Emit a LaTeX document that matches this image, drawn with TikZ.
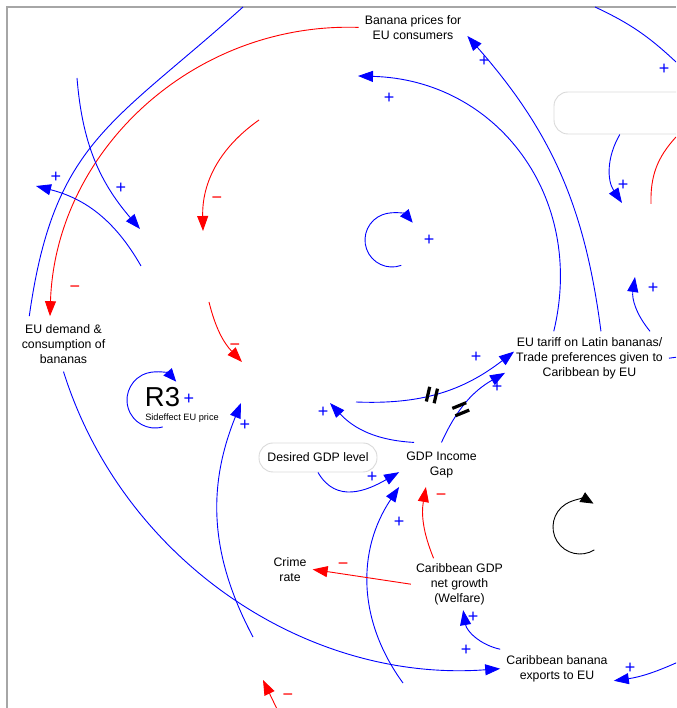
\documentclass[tikz,border=0pt]{standalone}
\usepackage{fontspec}
\setmainfont{Liberation Sans}
\usetikzlibrary{arrows.meta,decorations.markings}

\begin{document}
\begin{tikzpicture}[x=1pt, y=1pt,
            every node/.style = {align=center, inner sep=2pt,
                                 font=\fontsize{12.3}{15}\selectfont},
            link/.style = {line width=0.9pt, -{Triangle[length=15pt,width=11pt]}},
            bluelink/.style = {link, blue},
            redlink/.style = {link, red},
            plainline/.style = {line width=0.9pt},
            possign/.style = {text=blue, font=\fontsize{18}{18}\selectfont, inner sep=0pt},
            negsign/.style = {text=red, font=\fontsize{18}{18}\selectfont, inner sep=0pt},
            varbox/.style = {draw=black!15, line width=0.9pt, rounded corners=14pt},
            loopsign/.style = {line width=0.9pt, -{Triangle[length=13pt,width=11pt]}},
            delaymark/.style 2 args = {postaction={decorate, decoration={markings,
                mark=at position #1 with {\draw[draw=black, line width=3.2pt, -]
                    ({#2-90}:4) ++(#2:-7.5) -- ++(#2:15)
                    ({#2+90}:4) ++(#2:-7.5) -- ++(#2:15);}}}}]
  \useasboundingbox (0,0) rectangle (676,708);
  \draw[black!35, line width=1.3pt] (7,0) -- (7,701) -- (676,701);
  \begin{scope}
    \clip (7,0) rectangle (676,701);
    \node (prices) at (413,680.6) [inner xsep=6pt] {Banana prices for\\EU consumers};
    \node (demand) at (63.5,364.1) [inner ysep=8pt] {EU demand \&\\consumption of\\bananas};
    \node (tariff) at (589.5,349.8) [inner ysep=6pt] {EU tariff on Latin bananas/\\Trade preferences given to\\Caribbean by EU};
    \node (gap) at (441.5,243.3) [inner xsep=7pt, inner ysep=9pt] {GDP Income\\Gap};
    \node (crime) at (290,138.6) [inner sep=6pt] {Crime\\rate};
    \node (growth) at (459.5,123.8) [inner sep=5pt] {Caribbean GDP\\net growth\\(Welfare)};
    \node (exports) at (557,39.3) [inner sep=6pt] {Caribbean banana\\exports to EU};
    \node (desired) at (318,250.5) [varbox, minimum width=118pt, minimum height=29pt] {Desired GDP level};
    \node (empty) at (624,595) [varbox, minimum width=140pt, minimum height=42pt] {};
    \node (r3) at (162.5,311) [font=\fontsize{27.4}{30}\selectfont, inner sep=0pt] {R3};
    \node (r3name) at (182,289.5) [font=\fontsize{9.2}{11}\selectfont, inner sep=0pt] {Sideffect EU price};

    \coordinate (upL) at (243,701);
    \coordinate (inA) at (77,630);
    \coordinate (inB) at (140,479);
    \coordinate (inC) at (141,442);
    \coordinate (inD) at (36,522);
    \coordinate (inE) at (259,588);
    \coordinate (inF) at (203,477);
    \coordinate (inG) at (209,406);
    \coordinate (inH) at (242,346);
    \coordinate (upR) at (595,701);
    \coordinate (rimA) at (676,646);
    \coordinate (inI) at (358,632);
    \coordinate (inJ) at (622,505);
    \coordinate (rimB) at (676,571);
    \coordinate (inK) at (651,504);
    \coordinate (inL) at (635,431);
    \coordinate (inM) at (356,306);
    \coordinate (inN) at (330,305);
    \coordinate (lowA) at (403,25);
    \coordinate (rimC) at (677,45.5);
    \coordinate (lowB) at (253,71);
    \coordinate (inO) at (241,305);
    \coordinate (lowC) at (277,-1);
    \coordinate (inP) at (263,28);
    \coordinate (rimD) at (678,351);

    \draw[plainline, blue] (demand.141) to[out=82, in=222, looseness=1.2] (upL);
    \draw[redlink] (prices.west) to[bend right=45] (demand.116);
    \draw[bluelink] (inA) to[bend right=18] (inB);
    \draw[bluelink] (inC) to[bend right=23] (inD);
    \draw[redlink] (inE) to[bend right=28] (inF);
    \draw[redlink] (inG) to[bend right=15] (inH);
    \draw[plainline, blue] (upR) to[bend left=9] (rimA);
    \draw[bluelink] (tariff.143) to[bend right=51, looseness=1.1] (inI);
    \draw[bluelink] (tariff.67) to[bend right=17] (prices.-9);
    \draw[bluelink] (empty.-101) to[bend right=32] (inJ);
    \draw[plainline, red] (rimB) to[bend right=22] (inK);
    \draw[bluelink] (tariff.24) to[bend left=24] (inL);
    \draw[bluelink, delaymark={0.45}{62}] (inM) to[bend right=20] (tariff.175);
    \draw[bluelink, delaymark={0.4}{-30}] (gap.north) to[bend left=18] ([xshift=-9pt]tariff.191);
    \draw[bluelink] (gap.141) to[bend left=22] (inN);
    \draw[bluelink] (desired.south) to[out=-60, in=-150, looseness=1.15] (gap.190);
    \draw[bluelink] (lowA) to[bend left=35] (gap.south west);
    \draw[redlink] (growth.135) to[bend left=16] (gap.235);
    \draw[redlink] (growth.west) -- (crime.east);
    \draw[bluelink] (exports.north west) to[bend left=34] (growth.-82);
    \draw[bluelink] (demand.south) to[out=-72.6, in=184.2, looseness=0.95] (exports.west);
    \draw[bluelink] (rimC) to[bend left=8] (exports.-12);
    \draw[bluelink] (lowB) to[bend left=25] (inO);
    \draw[redlink] (lowC) -- (inP);
    \draw[plainline, blue] ([xshift=4pt]tariff.east) -- (rimD);

    \draw[loopsign, blue] (392,468) ++(-70:27) arc[start angle=-70, end angle=-320, radius=27];
    \draw[loopsign, blue] (155,308) ++(-74:28) arc[start angle=-74, end angle=-319, radius=28];
    \draw[loopsign, black] (580,181) ++(-58:27) arc[start angle=-58, end angle=-300, radius=27];

    \foreach \x/\y [count=\i] in {56/531, 121/520, 189/309, 245/283, 389/610, 484/647,
        664/639, 623/523, 653/420, 429/468, 476/351, 497/321, 323/296, 372/231,
        399/186, 473/91, 466/58, 630/40}
      \node[possign] (plus\i) at (\x,\y) {+};
    \foreach \x/\y [count=\i] in {75/419, 217/508, 235/361, 441/211, 343/142, 288/11}
      \node[negsign] (minus\i) at (\x,\y) {−};
  \end{scope}
\end{tikzpicture}
\end{document}
